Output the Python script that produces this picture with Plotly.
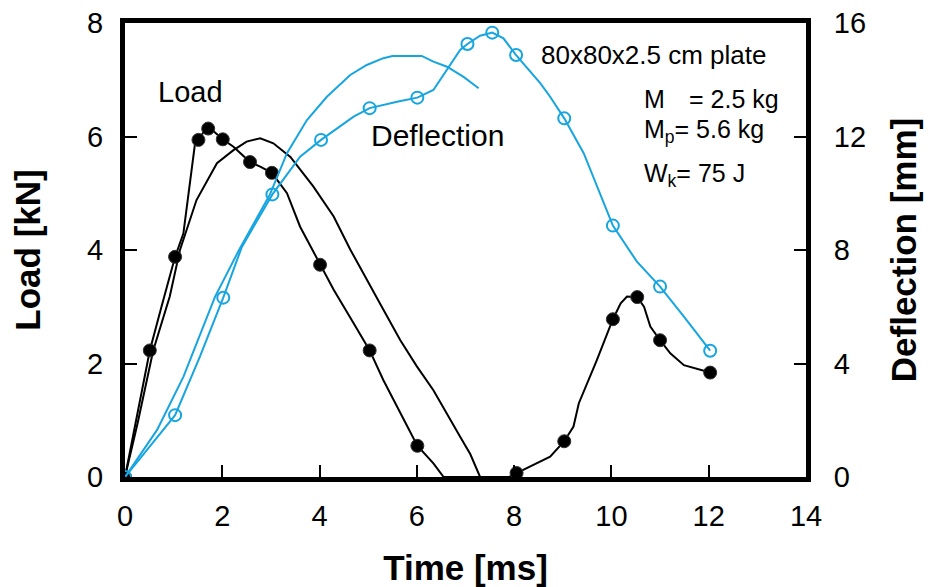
import plotly.graph_objects as go

# ---- Data ----
# Experimental load (line trace)
load_exp_t = [0, 0.25, 0.51, 0.75, 1.03, 1.2, 1.37, 1.44, 1.51, 1.61, 1.71, 1.84, 2.01, 2.23, 2.57, 2.78,
              3.02, 3.33, 3.6, 4.01, 4.29, 4.7, 5.03, 5.31, 5.66, 6.01, 6.34, 6.55, 7.0, 7.5, 7.9,
              8.05, 8.4, 8.74, 9.03, 9.22, 9.33, 9.47, 9.7, 10.03, 10.19, 10.32, 10.53, 10.67, 10.8,
              11.0, 11.21, 11.49, 11.83, 12.03]
load_exp_v = [0, 1.1, 2.23, 3.0, 3.88, 4.29, 5.47, 5.88, 5.94, 6.07, 6.14, 6.08, 5.95, 5.82, 5.55, 5.47,
              5.36, 5.0, 4.41, 3.74, 3.3, 2.71, 2.23, 1.71, 1.12, 0.55, 0.24, 0.0, 0.0, 0.0, 0.0,
              0.07, 0.21, 0.36, 0.63, 0.89, 1.3, 1.59, 2.06, 2.78, 3.06, 3.18, 3.17, 3.0, 2.65,
              2.41, 2.18, 1.97, 1.89, 1.84]
# Experimental load (marker points)
load_mark_t = [0, 0.51, 1.03, 1.51, 1.71, 2.01, 2.57, 3.02, 4.01, 5.03, 6.01, 8.05, 9.03, 10.03, 10.53, 11.0, 12.03]
load_mark_v = [0, 2.23, 3.88, 5.94, 6.14, 5.95, 5.55, 5.36, 3.74, 2.23, 0.55, 0.07, 0.63, 2.78, 3.17, 2.41, 1.84]

# Model load
load_mod_t = [0, 0.26, 0.58, 0.92, 1.13, 1.47, 1.89, 2.23, 2.5, 2.78, 3.05, 3.4, 3.87, 4.29, 4.63,
              4.97, 5.31, 5.66, 6.0, 6.34, 6.62, 6.89, 7.1, 7.3]
load_mod_v = [0, 0.95, 2.23, 3.18, 4.0, 4.88, 5.53, 5.76, 5.91, 5.97, 5.88, 5.64, 5.12, 4.59, 4.01,
              3.47, 2.95, 2.41, 1.95, 1.53, 1.1, 0.71, 0.4, 0.0]

# Experimental deflection (line trace), mm
defl_exp_t = [0, 0.5, 1.03, 1.54, 2.02, 2.4, 3.03, 3.6, 4.03, 4.7, 5.03, 5.64, 6.01, 6.34, 6.62, 6.89,
              7.04, 7.3, 7.55, 7.78, 8.04, 8.54, 8.74, 9.03, 9.43, 9.7, 10.03, 10.52, 11.0, 11.49, 12.03]
defl_exp_v = [0, 1.05, 2.18, 4.24, 6.32, 8.1, 9.96, 11.29, 11.88, 12.7, 13.0, 13.24, 13.37, 13.64, 14.34, 15.05,
              15.26, 15.55, 15.66, 15.46, 14.87, 13.87, 13.4, 12.64, 11.41, 10.23, 8.86, 7.6, 6.71, 5.65, 4.45]
# Experimental deflection (marker points)
defl_mark_t = [0, 1.03, 2.02, 3.03, 4.03, 5.03, 6.01, 7.04, 7.55, 8.04, 9.03, 10.03, 11.0, 12.03]
defl_mark_v = [0, 2.18, 6.32, 9.96, 11.88, 13.0, 13.37, 15.26, 15.66, 14.87, 12.64, 8.86, 6.71, 4.45]

# Model deflection, mm
defl_mod_t = [0, 0.66, 1.2, 1.85, 2.35, 2.98, 3.33, 3.74, 4.15, 4.63, 4.97, 5.31, 5.5, 6.1, 6.34,
              6.62, 6.96, 7.27]
defl_mod_v = [0, 1.66, 3.53, 6.35, 8.02, 9.96, 11.41, 12.58, 13.4, 14.17, 14.52, 14.76, 14.84, 14.84,
              14.64, 14.46, 14.1, 13.7]

x_ticks = [0, 2, 4, 6, 8, 10, 12, 14]
y_ticks = [0, 2, 4, 6, 8]
y2_ticks = [0, 4, 8, 12, 16]

BLUE = "#17a5e0"
BLACK = "#000000"
FONT = "Liberation Sans, Arial, sans-serif"

fig = go.Figure()

fig.add_trace(go.Scatter(x=load_mod_t, y=load_mod_v, mode="lines",
                         line=dict(color=BLACK, width=2), name="Load model", showlegend=False))
fig.add_trace(go.Scatter(x=load_exp_t, y=load_exp_v, mode="lines",
                         line=dict(color=BLACK, width=2), name="Load", showlegend=False))
fig.add_trace(go.Scatter(x=load_mark_t, y=load_mark_v, mode="markers",
                         marker=dict(color=BLACK, size=13, line=dict(color="#333333", width=1)),
                         name="Load points", showlegend=False))

fig.add_trace(go.Scatter(x=defl_mod_t, y=defl_mod_v, mode="lines", yaxis="y2",
                         line=dict(color=BLUE, width=2), name="Deflection model", showlegend=False))
fig.add_trace(go.Scatter(x=defl_exp_t, y=defl_exp_v, mode="lines", yaxis="y2",
                         line=dict(color=BLUE, width=2), name="Deflection", showlegend=False))
fig.add_trace(go.Scatter(x=defl_mark_t, y=defl_mark_v, mode="markers", yaxis="y2",
                         marker=dict(color="rgba(0,0,0,0)", size=12, line=dict(color=BLUE, width=2)),
                         name="Deflection points", showlegend=False))

tick_font = dict(family=FONT, size=29, color=BLACK)
title_font = dict(family=FONT, size=35, color=BLACK, weight="bold")

# The page body has an 8px margin, so the figure is sized to fit the 935x587 window.
fig.update_layout(
    width=927, height=579,
    margin=dict(l=117, r=129, t=15, b=110, autoexpand=False),
    paper_bgcolor="white", plot_bgcolor="white",
    font=dict(family=FONT, color=BLACK),
    xaxis=dict(range=[0, 14], tickvals=x_ticks, ticks="inside", ticklen=12, tickwidth=2,
               tickcolor=BLACK, showline=True, linewidth=5, linecolor=BLACK, mirror=True,
               showgrid=False, zeroline=False, tickfont=tick_font, ticklabelstandoff=9,
               ticklabeloverflow="allow",
               title=dict(text="<b>Time [ms]</b>", font=title_font, standoff=26)),
    yaxis=dict(range=[0, 8], tickvals=y_ticks, ticks="inside", ticklen=12, tickwidth=2,
               tickcolor=BLACK, showline=True, linewidth=5, linecolor=BLACK,
               showgrid=False, zeroline=False, tickfont=tick_font, ticklabelstandoff=11,
               ticklabeloverflow="allow",
               title=dict(text="<b>Load [kN]</b>", font=title_font, standoff=43)),
    yaxis2=dict(range=[0, 16], tickvals=y2_ticks, ticks="inside", ticklen=12, tickwidth=2,
                tickcolor=BLACK, showline=True, linewidth=5, linecolor=BLACK,
                overlaying="y", side="right",
                showgrid=False, zeroline=False, tickfont=tick_font, ticklabelstandoff=17,
                ticklabeloverflow="allow",
                title=dict(text="<b>Deflection [mm]</b>", font=title_font, standoff=28)),
)

ann_font = dict(family=FONT, size=29, color=BLACK)
defl_font = dict(family=FONT, size=30, color=BLACK)
small_font = dict(family=FONT, size=26, color=BLACK)
param_font = dict(family=FONT, size=25, color=BLACK)

annotations = [
    dict(text="Load", x=1.34, y=6.78, font=ann_font, xanchor="center", yanchor="middle"),
    dict(text="Deflection", x=6.42, y=6.01, font=defl_font, xanchor="center", yanchor="middle"),
    dict(text="80x80x2.5 cm plate", x=8.52, y=7.44, font=small_font, xanchor="left", yanchor="middle"),
    dict(text="M", x=10.62, y=6.66, font=param_font, xanchor="left", yanchor="middle"),
    dict(text="= 2.5 kg", x=11.55, y=6.66, font=param_font, xanchor="left", yanchor="middle"),
    dict(text="M<sub>p</sub>= 5.6 kg", x=10.62, y=6.1, font=param_font, xanchor="left", yanchor="middle"),
    dict(text="W<sub>k</sub>= 75 J", x=10.62, y=5.33, font=param_font, xanchor="left", yanchor="middle"),
]
for a in annotations:
    a.update(xref="x", yref="y", showarrow=False)
fig.update_layout(annotations=annotations)

fig.write_html("out.html")
